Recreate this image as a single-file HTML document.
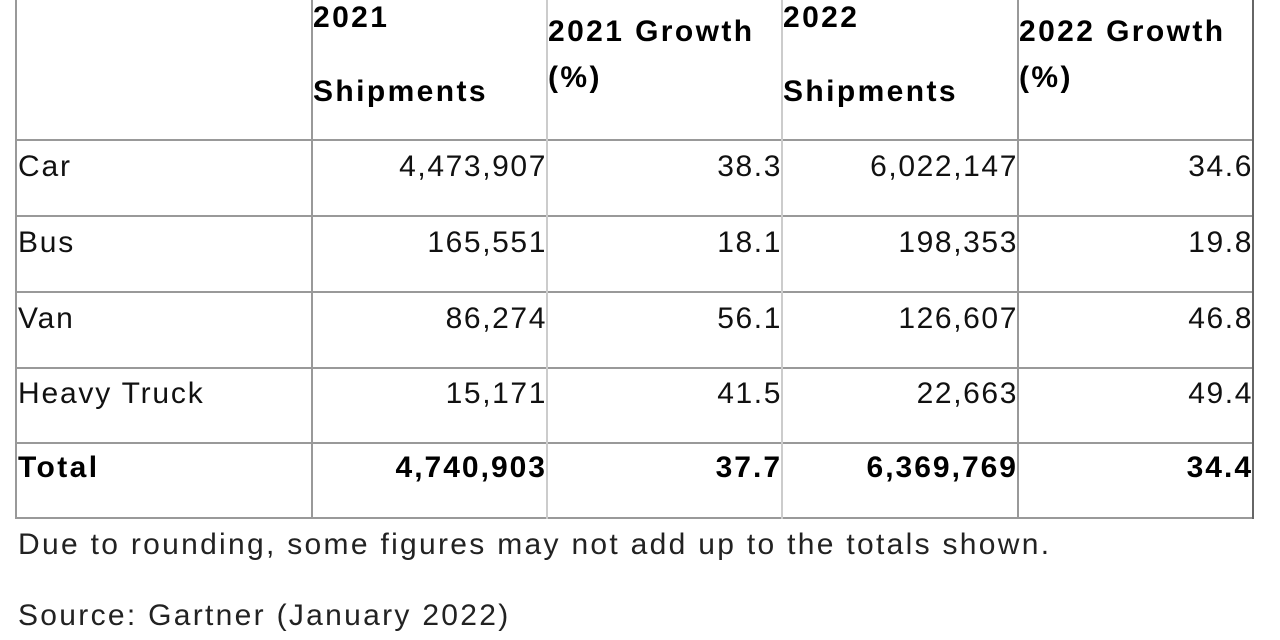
<!DOCTYPE html>
<html><head><meta charset="utf-8"><style>
body{margin:0;width:1280px;height:640px;background:#fff;overflow:hidden;font-family:"Liberation Sans",sans-serif;color:#111;position:relative}
.h{position:absolute;left:16px;width:1238px;height:2px;background:#999}
.v{position:absolute;top:0;width:2px;height:519px;background:#999}
.t{position:absolute;font-size:30px;line-height:32px;white-space:nowrap;letter-spacing:1.8px}
.b{font-weight:bold;letter-spacing:2.4px;color:#000}
.r{text-align:right;letter-spacing:1.6px}
.r.b{letter-spacing:2px}
</style></head><body>
<div class="h" style="top:139px"></div>
<div class="h" style="top:215px"></div>
<div class="h" style="top:291px"></div>
<div class="h" style="top:367px"></div>
<div class="h" style="top:442px"></div>
<div class="h" style="top:517px"></div>
<div class="v" style="left:15px"></div>
<div class="v" style="left:311px"></div>
<div class="v" style="left:546px;background:#ccc"></div>
<div class="v" style="left:781px;background:#ccc"></div>
<div class="v" style="left:1017px"></div>
<div class="v" style="left:1252px;background:#666"></div>

<div class="t b" style="left:313px;top:2px">2021</div>
<div class="t b" style="left:313px;top:76px">Shipments</div>
<div class="t b" style="left:548px;top:16px">2021 Growth</div>
<div class="t b" style="left:548px;top:62px">(%)</div>
<div class="t b" style="left:783px;top:2px">2022</div>
<div class="t b" style="left:783px;top:76px">Shipments</div>
<div class="t b" style="left:1019px;top:16px">2022 Growth</div>
<div class="t b" style="left:1019px;top:62px">(%)</div>

<div class="t" style="left:18px;top:151px">Car</div>
<div class="t" style="left:18px;top:227px">Bus</div>
<div class="t" style="left:18px;top:303px">Van</div>
<div class="t" style="left:18px;top:378px">Heavy Truck</div>
<div class="t b" style="left:18px;top:452px">Total</div>

<div class="t r" style="right:733px;top:151px">4,473,907</div>
<div class="t r" style="right:498px;top:151px">38.3</div>
<div class="t r" style="right:262px;top:151px">6,022,147</div>
<div class="t r" style="right:27px;top:151px">34.6</div>

<div class="t r" style="right:733px;top:227px">165,551</div>
<div class="t r" style="right:498px;top:227px">18.1</div>
<div class="t r" style="right:262px;top:227px">198,353</div>
<div class="t r" style="right:27px;top:227px">19.8</div>

<div class="t r" style="right:733px;top:303px">86,274</div>
<div class="t r" style="right:498px;top:303px">56.1</div>
<div class="t r" style="right:262px;top:303px">126,607</div>
<div class="t r" style="right:27px;top:303px">46.8</div>

<div class="t r" style="right:733px;top:378px">15,171</div>
<div class="t r" style="right:498px;top:378px">41.5</div>
<div class="t r" style="right:262px;top:378px">22,663</div>
<div class="t r" style="right:27px;top:378px">49.4</div>

<div class="t r b" style="right:733px;top:452px">4,740,903</div>
<div class="t r b" style="right:498px;top:452px">37.7</div>
<div class="t r b" style="right:262px;top:452px">6,369,769</div>
<div class="t r b" style="right:27px;top:452px">34.4</div>

<div class="t" style="left:18px;top:529px;color:#222;letter-spacing:2.3px">Due to rounding, some figures may not add up to the totals shown.</div>
<div class="t" style="left:18px;top:600px;color:#222;letter-spacing:2.3px">Source: Gartner (January 2022)</div>
</body></html>
